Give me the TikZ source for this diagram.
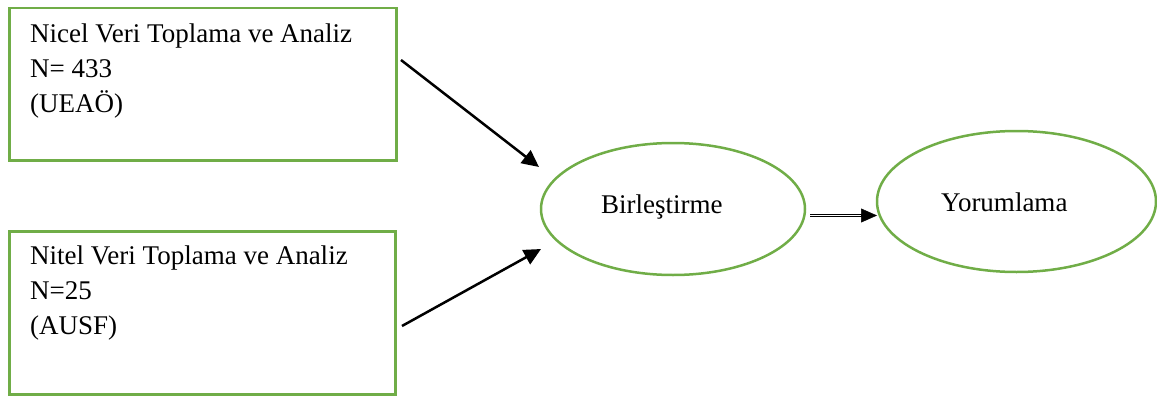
\documentclass[tikz,border=0pt]{standalone}
\usepackage{fontspec}
\setmainfont{Liberation Serif}
\usetikzlibrary{shapes.geometric,arrows.meta}
\definecolor{boxgreen}{RGB}{112,173,71}
\begin{document}
\begin{tikzpicture}[x=1pt,y=-1pt,
  greenbox/.style={draw=boxgreen,line width=2.5pt,rectangle,inner sep=0pt,anchor=north west},
  greenell/.style={draw=boxgreen,line width=2.5pt,ellipse,inner sep=0pt},
  label/.style={font=\fontsize{27}{35}\selectfont,inner sep=0pt},
  arr/.style={line width=2.5pt,-{Triangle[length=17pt,width=16pt]}}]
\useasboundingbox (0,0) rectangle (1157,396);
\node[greenbox,minimum width=387pt,minimum height=152pt] (b1) at (8,7) {};
\node[greenbox,minimum width=386pt,minimum height=163pt] (b2) at (8,230) {};
\node[label,anchor=base west,align=left] (t1) at (30,112) {Nicel Veri Toplama ve Analiz\\N= 433\\(UEAÖ)};
\node[label,anchor=base west,align=left] (t2) at (30,334) {Nitel Veri Toplama ve Analiz\\N=25\\(AUSF)};
\node[greenell,minimum width=264pt,minimum height=132pt] (e1) at (673,209) {};
\node[greenell,minimum width=279pt,minimum height=141pt] (e2) at (1016.5,201.5) {};
\node[label,anchor=base west] (l1) at (601,213) {Birleştirme};
\node[label,anchor=base west] (l2) at (941,211) {Yorumlama};
\coordinate (s1) at (401,60);
\coordinate (s2) at (402,326);
\coordinate (h1) at (539,167);
\coordinate (h2) at (541,249);
\draw[arr] (s1) -- (h1);
\draw[arr] (s2) -- (h2);
\coordinate (d1) at (810,215.5);
\coordinate (d2) at (863,215.5);
\coordinate (d3) at (877,215.5);
\draw[line width=1pt,double,double distance=1.6pt] (d1) -- (d2);
\draw[line width=0.5pt,-{Triangle[length=16pt,width=14pt]}] (d2) -- (d3);
\end{tikzpicture}
\end{document}
